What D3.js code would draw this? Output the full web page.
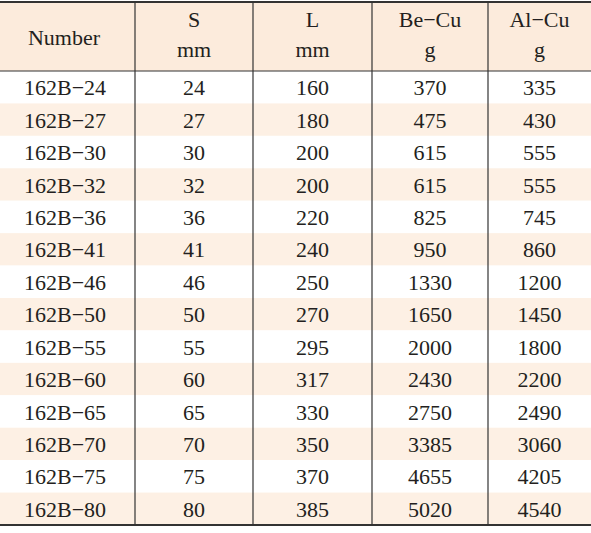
<!DOCTYPE html>
<html><head><meta charset="utf-8">
<script src="https://cdn.jsdelivr.net/npm/d3@7.9.0/dist/d3.min.js"></script>
<style>body{margin:0;background:#fff}</style>
</head><body><svg width="591" height="533"></svg>
<script>
const headers = [["Number"], ["S", "mm"], ["L", "mm"], ["Be\u2212Cu", "g"], ["Al\u2212Cu", "g"]];
const numbers = ["162B\u221224","162B\u221227","162B\u221230","162B\u221232","162B\u221236","162B\u221241","162B\u221246","162B\u221250","162B\u221255","162B\u221260","162B\u221265","162B\u221270","162B\u221275","162B\u221280"];
const sVals = [24,27,30,32,36,41,46,50,55,60,65,70,75,80];
const lVals = [160,180,200,200,220,240,250,270,295,317,330,350,370,385];
const beCu = [370,475,615,615,825,950,1330,1650,2000,2430,2750,3385,4655,5020];
const alCu = [335,430,555,555,745,860,1200,1450,1800,2200,2490,3060,4205,4540];

const rows = numbers.map((n, i) => [n, sVals[i], lVals[i], beCu[i], alCu[i]]);
const svg = d3.select("svg");
const colEdges = [0, 135, 253, 372, 488, 591];
const tableTop = 2, headH = 69, tableBottom = 525;
const y = d3.scaleBand().domain(d3.range(rows.length)).range([tableTop + headH, tableBottom]);
const font = "'Liberation Serif', 'Times New Roman', serif";

svg.append("rect").attr("x", 0).attr("y", tableTop).attr("width", 591).attr("height", headH).attr("fill", "#fcebdc");
svg.selectAll("rect.band").data(rows).join("rect")
  .attr("x", 0).attr("y", (d, i) => y(i)).attr("width", 591).attr("height", y.bandwidth())
  .attr("fill", (d, i) => i % 2 ? "#fdf0e4" : "#fff");

// header text
headers.forEach((h, c) => {
  const cx = c === 0 ? 64 : (colEdges[c] + colEdges[c + 1]) / 2;
  h.forEach((t, k) => {
    const yy = h.length === 1 ? tableTop + headH / 2 + 8 : tableTop + 25 + k * 30;
    svg.append("text").attr("x", cx).attr("y", yy).attr("text-anchor", "middle")
      .attr("font-family", font).attr("font-size", 22).attr("fill", "#231f20").text(t);
  });
});

rows.forEach((r, i) => {
  r.forEach((v, c) => {
    const cx = c === 0 ? 65 : (colEdges[c] + colEdges[c + 1]) / 2;
    svg.append("text").attr("x", cx).attr("y", y(i) + y.bandwidth() / 2 + 8).attr("text-anchor", "middle")
      .attr("font-family", font).attr("font-size", 22).attr("fill", "#231f20").text(v);
  });
});

const line = (x1, y1, x2, y2, w) => svg.append("line").attr("x1", x1).attr("y1", y1).attr("x2", x2).attr("y2", y2)
  .attr("stroke", "#333").attr("stroke-width", w);
line(0, tableTop, 591, tableTop, 2);
line(0, tableTop + headH, 591, tableTop + headH, 1.2);
line(0, tableBottom, 591, tableBottom, 2);
colEdges.slice(1, 5).forEach(x => line(x, tableTop, x, tableBottom, 1.2));
</script></body></html>
